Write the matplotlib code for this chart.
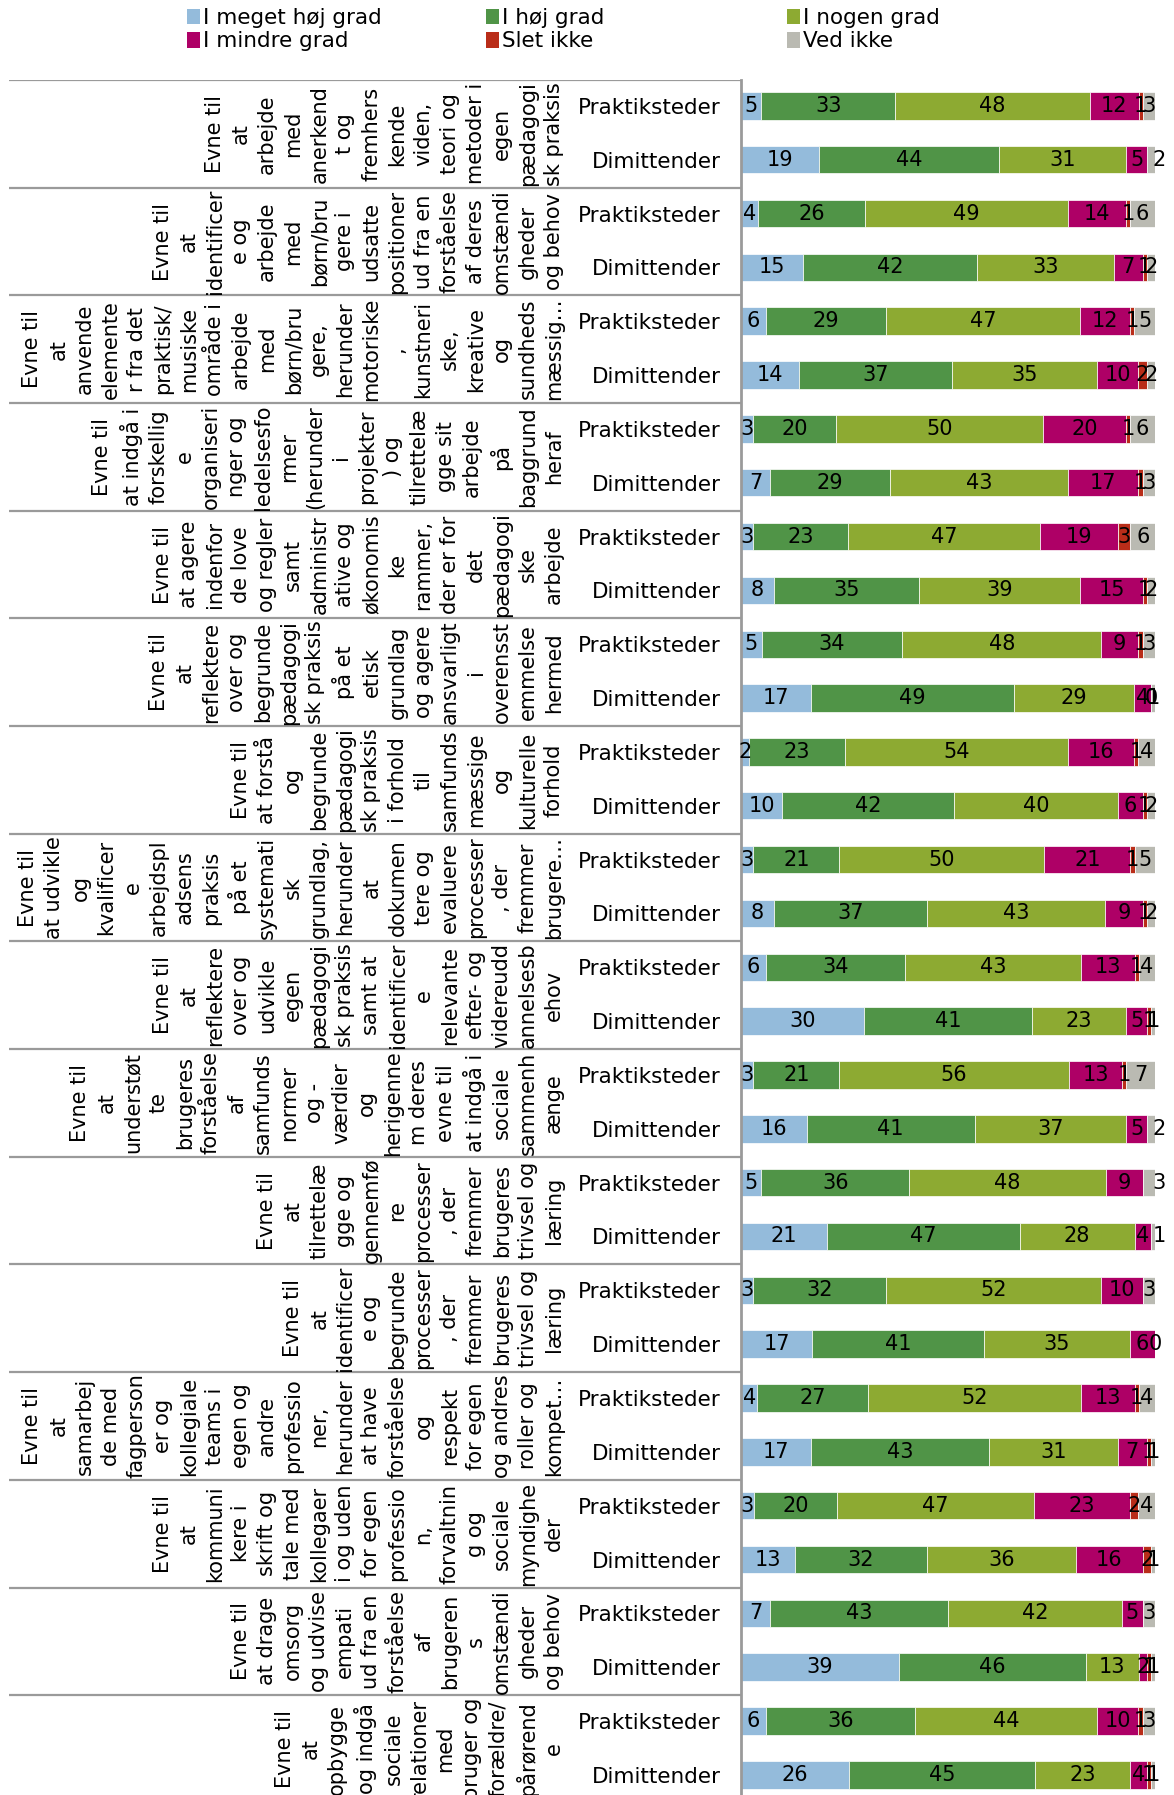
import numpy as np
import matplotlib.pyplot as plt
from matplotlib.patches import Patch

# category texts, wrapped the way they sit in the narrow rotated cells
categories = [
    "Evne til\nat\narbejde\nmed\nanerkend\nt og\nfremhers\nkende\nviden,\nteori og\nmetoder i\negen\npædagogi\nsk praksis",
    "Evne til\nat\nidentificer\ne og\narbejde\nmed\nbørn/bru\ngere i\nudsatte\npositioner\nud fra en\nforståelse\naf deres\nomstændi\ngheder\nog behov",
    "Evne til\nat\nanvende\nelemente\nr fra det\npraktisk/\nmusiske\nområde i\narbejde\nmed\nbørn/bru\ngere,\nherunder\nmotoriske\n,\nkunstneri\nske,\nkreative\nog\nsundheds\nmæssig…",
    "Evne til\nat indgå i\nforskellig\ne\norganiseri\nnger og\nledelsesfo\nrmer\n(herunder\ni\nprojekter\n) og\ntilrettelæ\ngge sit\narbejde\npå\nbaggrund\nheraf",
    "Evne til\nat agere\nindenfor\nde love\nog regler\nsamt\nadministr\native og\nøkonomis\nke\nrammer,\nder er for\ndet\npædagogi\nske\narbejde",
    "Evne til\nat\nreflektere\nover og\nbegrunde\npædagogi\nsk praksis\npå et\netisk\ngrundlag\nog agere\nansvarligt\ni\noverensst\nemmelse\nhermed",
    "Evne til\nat forstå\nog\nbegrunde\npædagogi\nsk praksis\ni forhold\ntil\nsamfunds\nmæssige\nog\nkulturelle\nforhold",
    "Evne til\nat udvikle\nog\nkvalificer\ne\narbejdspl\nadsens\npraksis\npå et\nsystemati\nsk\ngrundlag,\nherunder\nat\ndokumen\ntere og\nevaluere\nprocesser\n, der\nfremmer\nbrugere…",
    "Evne til\nat\nreflektere\nover og\nudvikle\negen\npædagogi\nsk praksis\nsamt at\nidentificer\ne\nrelevante\nefter- og\nvidereudd\nannelsesb\nehov",
    "Evne til\nat\nunderstøt\nte\nbrugeres\nforståelse\naf\nsamfunds\nnormer\nog -\nværdier\nog\nherigenne\nm deres\nevne til\nat indgå i\nsociale\nsammenh\nænge",
    "Evne til\nat\ntilrettelæ\ngge og\ngennemfø\nre\nprocesser\n, der\nfremmer\nbrugeres\ntrivsel og\nlæring",
    "Evne til\nat\nidentificer\ne og\nbegrunde\nprocesser\n, der\nfremmer\nbrugeres\ntrivsel og\nlæring",
    "Evne til\nat\nsamarbej\nde med\nfagperson\ner og\nkollegiale\nteams i\negen og\nandre\nprofessio\nner,\nherunder\nat have\nforståelse\nog\nrespekt\nfor egen\nog andres\nroller og\nkompet…",
    "Evne til\nat\nkommuni\nkere i\nskrift og\ntale med\nkollegaer\ni og uden\nfor egen\nprofessio\nn,\nforvaltnin\ng og\nsociale\nmyndighe\nder",
    "Evne til\nat drage\nomsorg\nog udvise\nempati\nud fra en\nforståelse\naf\nbrugeren\ns\nomstændi\ngheder\nog behov",
    "Evne til\nat\nopbygge\nog indgå\nsociale\nrelationer\nmed\nbruger og\nforældre/\npårørend\ne",
]
respondents = ["Praktiksteder", "Dimittender"]
series = ["I meget høj grad", "I høj grad", "I nogen grad",
          "I mindre grad", "Slet ikke", "Ved ikke"]

# percentages per category (None = no answer in that category)
meget_hoej_prakt = [5, 4, 6, 3, 3, 5, 2, 3, 6, 3, 5, 3, 4, 3, 7, 6]
meget_hoej_dimit = [19, 15, 14, 7, 8, 17, 10, 8, 30, 16, 21, 17, 17, 13, 39, 26]
hoej_prakt = [33, 26, 29, 20, 23, 34, 23, 21, 34, 21, 36, 32, 27, 20, 43, 36]
hoej_dimit = [44, 42, 37, 29, 35, 49, 42, 37, 41, 41, 47, 41, 43, 32, 46, 45]
nogen_prakt = [48, 49, 47, 50, 47, 48, 54, 50, 43, 56, 48, 52, 52, 47, 42, 44]
nogen_dimit = [31, 33, 35, 43, 39, 29, 40, 43, 23, 37, 28, 35, 31, 36, 13, 23]
mindre_prakt = [12, 14, 12, 20, 19, 9, 16, 21, 13, 13, 9, 10, 13, 23, 5, 10]
mindre_dimit = [5, 7, 10, 17, 15, 4, 6, 9, 5, 5, 4, 6, 7, 16, 2, 4]
slet_prakt = [1, 1, 1, 1, 3, 1, 1, 1, 1, 1, None, None, 1, 2, None, 1]
slet_dimit = [None, 1, 2, 1, 1, 0, 1, 1, 1, None, None, 0, 1, 2, 1, 1]
vedikke_prakt = [3, 6, 5, 6, 6, 3, 4, 5, 4, 7, 3, 3, 4, 4, 3, 3]
vedikke_dimit = [2, 2, 2, 3, 2, 1, 2, 2, 1, 2, 1, None, 1, 1, 1, 1]

colors = ["#94BBDB", "#509447", "#8DAA32", "#AE0066", "#B92D19", "#BABAB2"]

prakt = [meget_hoej_prakt, hoej_prakt, nogen_prakt, mindre_prakt, slet_prakt, vedikke_prakt]
dimit = [meget_hoej_dimit, hoej_dimit, nogen_dimit, mindre_dimit, slet_dimit, vedikke_dimit]

# rows: Praktiksteder, Dimittender for each category
vals = []
for g in range(len(categories)):
    vals.append([np.nan if s[g] is None else s[g] for s in prakt])
    vals.append([np.nan if s[g] is None else s[g] for s in dimit])
vals = np.array(vals, dtype=float)
shares = vals / np.nansum(vals, axis=1, keepdims=True) * 100
lefts = np.cumsum(np.nan_to_num(shares), axis=1) - np.nan_to_num(shares)

# rows whose "Ved ikke" label sits just past the bar end
vi_outside = {1, 19, 20, 21}

W, H = 1174, 1795
top_px, row_px = 80, 53.84
bar_left, bar_right = 741, 1155

fig = plt.figure(figsize=(W / 100, H / 100), dpi=100)
ax = fig.add_axes([bar_left / W, 0, (bar_right - bar_left) / W, (H - top_px) / H])
ylim = ((H - top_px) / row_px, 0)
ax.set_xlim(0, 100)
ax.set_ylim(*ylim)

ypos = np.array([2 * g + off for g in range(len(categories)) for off in (0.48, 1.48)])

for s in range(len(series)):
    ok = ~np.isnan(shares[:, s])
    ax.barh(ypos[ok], shares[ok, s], left=lefts[ok, s], height=0.51,
            color=colors[s], edgecolor="white", linewidth=0.5)
    for r in np.where(ok)[0]:
        txt = str(int(vals[r, s]))
        if s == 5 and r in vi_outside:
            ax.annotate(txt, (lefts[r, s] + shares[r, s], ypos[r]), xytext=(3, 0),
                        textcoords="offset points", ha="center", va="center",
                        fontsize=15, annotation_clip=False)
        else:
            ax.text(lefts[r, s] + shares[r, s] / 2, ypos[r], txt, ha="center",
                    va="center", fontsize=15, clip_on=False)

ax.set_yticks(ypos)
ax.set_yticklabels(respondents * len(categories))
ax.tick_params(axis="y", length=0, pad=14.4, labelsize=15.5)
ax.set_xticks([])
for side in ["top", "right", "bottom"]:
    ax.spines[side].set_visible(False)
ax.spines["left"].set_color("#9a9a9a")
ax.spines["left"].set_linewidth(2)

# table part on the left: separators and rotated category texts
lab = fig.add_axes([9 / W, 0, (bar_left - 9) / W, (H - top_px) / H])
lab.set_xlim(0, bar_left - 9)
lab.set_ylim(*ylim)
lab.axis("off")
for g in range(len(categories) + 1):
    lab.axhline(2 * g, color="#9a9a9a", lw=1.6)
for g, cat in enumerate(categories):
    lab.text(564 - 9, 2 * g + 1, cat, rotation=90, ha="right", va="center",
             multialignment="center", fontsize=15, linespacing=1.38)

# legend in three columns of two
handles = [Patch(facecolor=c, edgecolor="none") for c in colors]
for col, x in enumerate([187, 486, 787]):
    idx = [col, col + 3]
    fig.legend([handles[i] for i in idx], [series[i] for i in idx],
               loc="upper left", bbox_to_anchor=(x / W, 1 - 8 / H), frameon=False,
               fontsize=15.5, handlelength=0.6, handleheight=0.75, handletextpad=0.15,
               labelspacing=0.15, borderpad=0, borderaxespad=0)

fig.savefig("out.png", dpi=100)
